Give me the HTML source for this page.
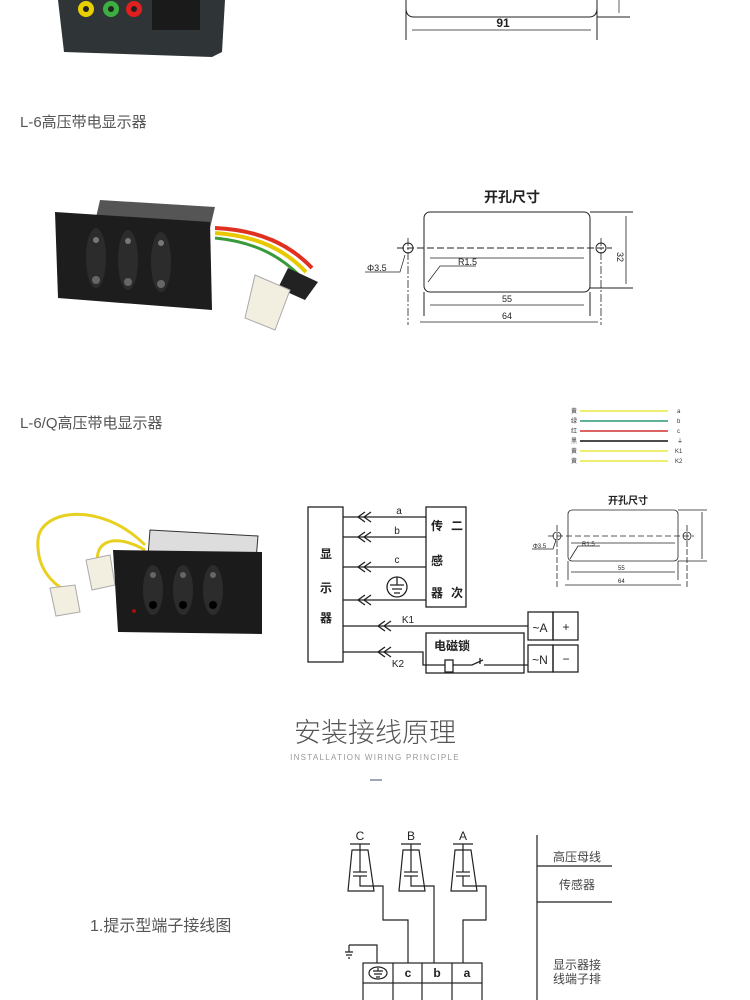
<!DOCTYPE html>
<html><head><meta charset="utf-8"><style>
body{margin:0;background:#fff;}
svg{display:block;font-family:"Liberation Sans","Noto Sans CJK SC",sans-serif;}
</style></head><body>
<svg width="750" height="1000" viewBox="0 0 750 1000" xmlns="http://www.w3.org/2000/svg">
<!-- top photo -->
<path d="M58 0 H225 L222 52 L212 57 L64 52 Z" fill="#2f3436"/>
<circle cx="86" cy="9" r="8" fill="#e8d000"/><circle cx="86" cy="9" r="3" fill="#222"/>
<circle cx="111" cy="9" r="8" fill="#3bb040"/><circle cx="111" cy="9" r="3" fill="#222"/>
<circle cx="134" cy="9" r="8" fill="#e02020"/><circle cx="134" cy="9" r="3" fill="#222"/>
<rect x="152" y="0" width="48" height="30" fill="#1a1a1a"/>
<!-- top drawing -->
<g stroke="#222" fill="none" stroke-width="1">
<path d="M406 0 V8 Q406 17 414 17 H589 Q597 17 597 8 V0"/>
<line x1="406" y1="0" x2="406" y2="40"/><line x1="597" y1="0" x2="597" y2="40"/>
<line x1="597" y1="17" x2="630" y2="17"/><line x1="619" y1="0" x2="619" y2="13" stroke-width=".7"/>
<line x1="412" y1="30" x2="591" y2="30" stroke-width=".7"/>
</g>
<text x="503" y="27" font-size="12" font-weight="bold" text-anchor="middle" fill="#222">91</text>
<text x="20" y="127" font-size="15" fill="#555">L-6高压带电显示器</text>
<!-- middle photo -->
<path d="M215 228 C260 230 290 245 312 268" stroke="#e03020" stroke-width="4" fill="none"/>
<path d="M215 233 C258 236 285 250 306 272" stroke="#e8c800" stroke-width="4" fill="none"/>
<path d="M215 238 C255 242 280 256 300 276" stroke="#3a9a3a" stroke-width="3" fill="none"/>
<path d="M288 268 L318 282 L305 300 L278 288 Z" fill="#222"/>
<path d="M255 275 L290 290 L275 330 L245 318 Z" fill="#f2efe0" stroke="#aaa"/>
<path d="M100 200 L215 207 L210 228 L95 222 Z" fill="#555"/>
<path d="M55 212 L210 222 L212 310 L58 298 Z" fill="#1d1d1d"/>
<ellipse cx="96" cy="258" rx="10" ry="30" fill="#2c2c2c"/><ellipse cx="128" cy="260" rx="10" ry="30" fill="#2c2c2c"/><ellipse cx="161" cy="262" rx="10" ry="30" fill="#2c2c2c"/>
<circle cx="96" cy="240" r="3" fill="#777"/><circle cx="96" cy="280" r="4" fill="#666"/>
<circle cx="128" cy="241" r="3" fill="#777"/><circle cx="128" cy="282" r="4" fill="#666"/>
<circle cx="161" cy="243" r="3" fill="#777"/><circle cx="161" cy="284" r="4" fill="#666"/>
<!-- middle drawing -->
<text x="512" y="202" font-size="14" font-weight="bold" text-anchor="middle" fill="#222">开孔尺寸</text>
<g stroke="#222" fill="none" stroke-width="1">
<rect x="424" y="212" width="166" height="80" rx="6"/>
<circle cx="408" cy="248" r="5"/><circle cx="601" cy="248" r="5"/>
<line x1="397" y1="248" x2="612" y2="248" stroke-dasharray="7 3"/>
<line x1="408" y1="238" x2="408" y2="325" stroke-dasharray="8 2 2 2" stroke-width=".8"/>
<line x1="601" y1="238" x2="601" y2="325" stroke-dasharray="8 2 2 2" stroke-width=".8"/>
<line x1="424" y1="292" x2="424" y2="316"/><line x1="590" y1="292" x2="590" y2="316"/>
<line x1="590" y1="212" x2="633" y2="212"/><line x1="590" y1="288" x2="633" y2="288"/>
<line x1="626" y1="216" x2="626" y2="284" stroke-width=".8"/>
<line x1="430" y1="258" x2="584" y2="258" stroke-width=".8"/>
<line x1="430" y1="305" x2="584" y2="305" stroke-width=".8"/>
<line x1="420" y1="322" x2="598" y2="322" stroke-width=".8"/>
<path d="M428 282 L440 266 H476" stroke-width=".7"/>
<path d="M365 272 H400 L405 255" stroke-width=".7"/>
</g>
<text x="458" y="265" font-size="9" fill="#222">R1.5</text>
<text x="367" y="271" font-size="9" fill="#222">Φ3.5</text>
<text x="507" y="302" font-size="9" text-anchor="middle" fill="#222">55</text>
<text x="507" y="319" font-size="9" text-anchor="middle" fill="#222">64</text>
<text x="617" y="252" font-size="9" fill="#222" transform="rotate(90 617 252)">32</text>
<text x="20" y="428" font-size="15" fill="#555">L-6/Q高压带电显示器</text>
<!-- legend -->
<g font-size="6" fill="#333">
<text x="571" y="413">黄</text><text x="571" y="423">绿</text><text x="571" y="433">红</text><text x="571" y="443">黑</text><text x="571" y="453">黄</text><text x="571" y="463">黄</text>
<text x="677" y="413">a</text><text x="677" y="423">b</text><text x="677" y="433">c</text><text x="677" y="443">⏚</text><text x="675" y="453">K1</text><text x="675" y="463">K2</text>
</g>
<line x1="580" y1="411" x2="668" y2="411" stroke="#eeee70" stroke-width="2"/>
<line x1="580" y1="421" x2="668" y2="421" stroke="#2a9a70" stroke-width="1.5"/>
<line x1="580" y1="431" x2="668" y2="431" stroke="#d03030" stroke-width="1.5"/>
<line x1="580" y1="441" x2="668" y2="441" stroke="#111" stroke-width="1.5"/>
<line x1="580" y1="451" x2="668" y2="451" stroke="#eeee70" stroke-width="2"/>
<line x1="580" y1="461" x2="668" y2="461" stroke="#eeee70" stroke-width="2"/>
<!-- bottom photo -->
<path d="M145 545 C100 500 40 510 38 540 C36 570 55 585 65 590" stroke="#e8d020" stroke-width="3" fill="none"/>
<path d="M145 550 C110 530 90 545 100 570" stroke="#e8d020" stroke-width="3" fill="none"/>
<path d="M50 588 L75 585 L80 612 L56 616 Z" fill="#f2efe0" stroke="#aaa"/>
<path d="M86 560 L110 555 L115 585 L92 590 Z" fill="#f2efe0" stroke="#aaa"/>
<path d="M150 530 L258 536 L256 560 L148 556 Z" fill="#ddd" stroke="#333"/>
<path d="M113 550 L262 552 L262 634 L118 632 Z" fill="#1b1b1b"/>
<ellipse cx="153" cy="590" rx="10" ry="25" fill="#2c2c2c"/><ellipse cx="183" cy="590" rx="10" ry="25" fill="#2c2c2c"/><ellipse cx="213" cy="590" rx="10" ry="25" fill="#2c2c2c"/>
<circle cx="153" cy="575" r="3" fill="#666"/><circle cx="153" cy="605" r="4" fill="#000"/>
<circle cx="183" cy="575" r="3" fill="#666"/><circle cx="183" cy="605" r="4" fill="#000"/>
<circle cx="213" cy="575" r="3" fill="#666"/><circle cx="213" cy="605" r="4" fill="#000"/>
<circle cx="134" cy="611" r="2" fill="#a01010"/>
<!-- wiring diagram -->
<g stroke="#222" fill="none" stroke-width="1.3">
<rect x="308" y="507" width="35" height="155"/>
<rect x="426" y="507" width="40" height="100"/>
<line x1="343" y1="517" x2="426" y2="517"/><line x1="343" y1="537" x2="426" y2="537"/>
<line x1="343" y1="567" x2="426" y2="567"/><line x1="343" y1="600" x2="426" y2="600"/>
<path d="M365 512 L358 517 L365 522 M371 512 L364 517 L371 522"/>
<path d="M365 532 L358 537 L365 542 M371 532 L364 537 L371 542"/>
<path d="M365 562 L358 567 L365 572 M371 562 L364 567 L371 572"/>
<path d="M365 595 L358 600 L365 605 M371 595 L364 600 L371 605"/>
<circle cx="397" cy="587" r="10"/>
<path d="M397 577 V585 M390 585 H404 M392 589 H402 M394 593 H400"/>
<line x1="343" y1="626" x2="528" y2="626"/>
<path d="M385 621 L378 626 L385 631 M391 621 L384 626 L391 631"/>
<path d="M385 647 L378 652 L385 657 M391 647 L384 652 L391 657"/>
<rect x="528" y="612" width="25" height="28"/><rect x="553" y="612" width="25" height="28"/>
<rect x="528" y="645" width="25" height="27"/><rect x="553" y="645" width="25" height="27"/>
<rect x="426" y="633" width="98" height="40"/>
<path d="M343 652 H423 V665 H445"/>
<rect x="445" y="660" width="8" height="12"/>
<path d="M453 665 H472 L483 660 M480 658 V664 M484 665 H528"/>
</g>
<g font-size="12" fill="#222" text-anchor="middle">
<text x="515" y="514">a</text><text x="397" y="534" font-size="10">b</text>
<text x="399" y="514" font-size="10">a</text><text x="397" y="563" font-size="10">c</text>
<text x="408" y="623" font-size="10">K1</text><text x="398" y="667" font-size="10">K2</text>
<text x="326" y="558" font-weight="bold">显</text><text x="326" y="592" font-weight="bold">示</text><text x="326" y="622" font-weight="bold">器</text>
<text x="437" y="530" font-weight="bold">传</text><text x="457" y="530" font-weight="bold">二</text>
<text x="437" y="565" font-weight="bold">感</text>
<text x="437" y="597" font-weight="bold">器</text><text x="457" y="597" font-weight="bold">次</text>
<text x="452" y="650" font-weight="bold">电磁锁</text>
<text x="540" y="632">~A</text><text x="566" y="631">+</text>
<text x="540" y="664">~N</text><text x="566" y="663">−</text>
</g>
<rect x="509" y="506" width="14" height="10" fill="#fff"/>
<!-- small drawing -->
<text x="628" y="504" font-size="10" font-weight="bold" text-anchor="middle" fill="#222">开孔尺寸</text>
<g stroke="#222" fill="none" stroke-width=".8">
<rect x="568" y="510" width="110" height="51" rx="4"/>
<circle cx="557" cy="536" r="4"/><circle cx="687" cy="536" r="4"/>
<line x1="548" y1="536" x2="694" y2="536" stroke-dasharray="6 3"/>
<line x1="557" y1="525" x2="557" y2="588" stroke-dasharray="6 2"/>
<line x1="687" y1="525" x2="687" y2="588" stroke-dasharray="6 2"/>
<line x1="568" y1="561" x2="568" y2="580"/><line x1="678" y1="561" x2="678" y2="580"/>
<line x1="678" y1="510" x2="707" y2="510"/><line x1="678" y1="561" x2="707" y2="561"/>
<line x1="702" y1="512" x2="702" y2="559"/>
<line x1="571" y1="543" x2="675" y2="543"/><line x1="571" y1="572" x2="675" y2="572"/><line x1="565" y1="585" x2="681" y2="585"/>
<path d="M570 559 L578 546 H600"/><path d="M532 549 H553 L556 540"/>
</g>
<g font-size="6" fill="#222"><text x="582" y="546">R1.5</text><text x="533" y="548">Φ3.5</text><text x="618" y="570">55</text><text x="618" y="583">64</text></g>
<!-- heading -->
<text x="375" y="742" font-size="27" fill="#555" text-anchor="middle" font-family="'Noto Sans CJK SC',sans-serif" font-weight="300">安装接线原理</text>
<text x="375" y="760" font-size="8" fill="#999" text-anchor="middle" letter-spacing="1.3">INSTALLATION WIRING PRINCIPLE</text>
<line x1="370" y1="780" x2="382" y2="780" stroke="#7a8aa0" stroke-width="1.5"/>
<text x="90" y="931" font-size="16" fill="#555">1.提示型端子接线图</text>
<!-- bottom wiring -->
<g stroke="#222" fill="none" stroke-width="1.2">
<g id="ins">
<line x1="350" y1="844" x2="370" y2="844"/><line x1="360" y1="844" x2="360" y2="872"/>
<path d="M352 850 L348 891 H374 L368 850 Z"/>
<line x1="353" y1="872" x2="367" y2="872"/><line x1="353" y1="876" x2="367" y2="876"/>
<path d="M360 876 V886 H373"/>
</g>
<use href="#ins" x="51"/><use href="#ins" x="103"/>
<path d="M373 886 H383 V920 H408 V963"/>
<path d="M424 886 H434 V963"/>
<path d="M476 886 H486 V920 H463 V963"/>
<path d="M349 945 H377 V963"/>
<path d="M349 945 V952 M345 952 H353 M346 955 H352 M348 958 H350"/>
<rect x="363" y="963" width="119" height="20"/>
<path d="M393 963 V1000 M422 963 V1000 M452 963 V1000 M363 983 V1000 M482 983 V1000"/>
<ellipse cx="378" cy="973" rx="9" ry="6"/>
<path d="M378 968 V971 M373 971 H383 M374 974 H382 M376 977 H380"/>
<path d="M537 835 V1000 M537 866 H612 M537 902 H612"/>
</g>
<g font-size="12" fill="#222" text-anchor="middle">
<text x="360" y="840">C</text><text x="411" y="840">B</text><text x="463" y="840">A</text>
<text x="408" y="977" font-weight="bold">c</text><text x="437" y="977" font-weight="bold">b</text><text x="467" y="977" font-weight="bold">a</text>
</g>
<g font-size="12" fill="#444" text-anchor="middle">
<text x="577" y="861">高压母线</text><text x="577" y="889">传感器</text>
<text x="577" y="969">显示器接</text><text x="577" y="983">线端子排</text>
</g>
</svg>
</body></html>
